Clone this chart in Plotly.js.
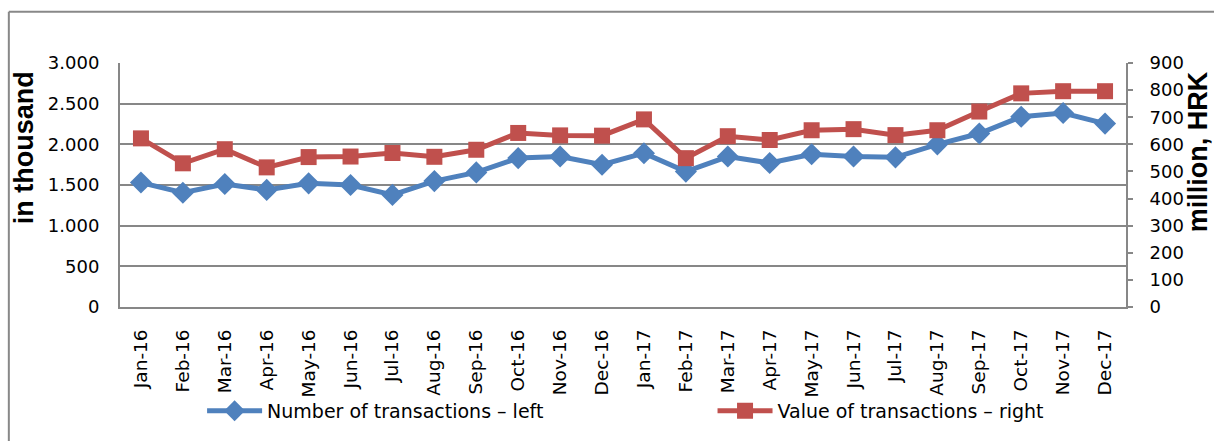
<!DOCTYPE html>
<html>
<head>
<meta charset="utf-8">
<script src="https://cdn.plot.ly/plotly-3.0.1.min.js"></script>
<style>html,body{margin:0;padding:0;background:#fff;}#chart{width:1214px;height:441px;}</style>
</head>
<body>
<div id="chart"></div>
<script>
const months = ["Jan-16","Feb-16","Mar-16","Apr-16","May-16","Jun-16","Jul-16","Aug-16","Sep-16","Oct-16","Nov-16","Dec-16",
                "Jan-17","Feb-17","Mar-17","Apr-17","May-17","Jun-17","Jul-17","Aug-17","Sep-17","Oct-17","Nov-17","Dec-17"];
const numberOfTransactions = [1530,1405,1512,1440,1520,1500,1378,1548,1655,1831,1850,1749,
                              1891,1665,1850,1770,1878,1850,1840,2000,2133,2340,2385,2255];
const valueOfTransactions = [622,530,582,515,553,555,568,554,580,642,633,632,
                             692,549,630,616,652,656,634,652,721,788,796,796];
const seriesNames = ["Number of transactions – left","Value of transactions – right"];
const axisTitles = ["in thousand","million, HRK"];

const gridColor = "#878787";
const tickFam = "DejaVu Sans, sans-serif";
const titleFam = "Liberation Sans, Arial, sans-serif";

const traces = [
  {x: months, y: numberOfTransactions, name: seriesNames[0], type: "scatter", mode: "lines+markers",
   line: {color: "#4F81BD", width: 5}, marker: {symbol: "diamond", size: 17, color: "#4F81BD"},
   yaxis: "y", legend: "legend"},
  {x: months, y: valueOfTransactions, name: seriesNames[1], type: "scatter", mode: "lines+markers",
   line: {color: "#C0504D", width: 5}, marker: {symbol: "square", size: 16, color: "#C0504D"},
   yaxis: "y2", legend: "legend2"}
];

const layout = {
  width: 1214, height: 441,
  margin: {l: 120, r: 88, t: 63, b: 133},
  paper_bgcolor: "#fff", plot_bgcolor: "#fff",
  font: {family: tickFam, size: 18, color: "#000"},
  separators: ",.",
  showlegend: true,
  xaxis: {
    type: "category", range: [-0.5, 23.5], tickangle: -90,
    showline: true, linecolor: gridColor, linewidth: 2, showgrid: false,
    ticks: "", ticklabelstandoff: 13,
    tickfont: {family: tickFam, size: 18.5, color: "#000"}, automargin: false
  },
  yaxis: {
    range: [0, 3000], dtick: 500, tickformat: ",d",
    showgrid: true, gridcolor: gridColor, gridwidth: 2,
    showline: true, linecolor: gridColor, linewidth: 2, zeroline: false,
    ticks: "", ticklabelstandoff: 15,
    tickfont: {family: tickFam, size: 18, color: "#000"},
    automargin: false
  },
  yaxis2: {
    overlaying: "y", side: "right", range: [0, 900], dtick: 100,
    showgrid: false, showline: true, linecolor: gridColor, linewidth: 2, zeroline: false,
    ticks: "outside", ticklen: 5, tickcolor: gridColor, tickwidth: 2, ticklabelstandoff: 13,
    tickfont: {family: tickFam, size: 18, color: "#000"},
    automargin: false
  },
  annotations: [
    {text: "<b>" + axisTitles[0] + "</b>", xref: "paper", yref: "paper", x: -0.0958, y: 0.653,
     xanchor: "center", yanchor: "middle", textangle: -90, showarrow: false,
     font: {family: titleFam, size: 27, color: "#000"}},
    {text: "<b>" + axisTitles[1] + "</b>", xref: "paper", yref: "paper", x: 1.0712, y: 0.637,
     xanchor: "center", yanchor: "middle", textangle: -90, showarrow: false,
     font: {family: titleFam, size: 27, color: "#000"}}
  ],
  legend: {orientation: "h", x: 0.0816, xanchor: "left", y: -0.42, yanchor: "middle",
           itemwidth: 55, font: {family: tickFam, size: 19, color: "#000"}, bgcolor: "rgba(0,0,0,0)"},
  legend2: {orientation: "h", x: 0.589, xanchor: "left", y: -0.42, yanchor: "middle",
            itemwidth: 55, font: {family: tickFam, size: 19, color: "#000"}, bgcolor: "rgba(0,0,0,0)"},
  shapes: [
    {type: "line", xref: "paper", yref: "paper", x0: -0.1105, x1: 1.1, y0: 1.2105, y1: 1.2105,
     line: {color: "#888", width: 2}},
    {type: "line", xref: "paper", yref: "paper", x0: -0.1105, x1: -0.1105, y0: 1.2105, y1: -0.6,
     line: {color: "#888", width: 2}}
  ]
};

Plotly.newPlot("chart", traces, layout, {displayModeBar: false, staticPlot: true});
</script>
</body>
</html>
